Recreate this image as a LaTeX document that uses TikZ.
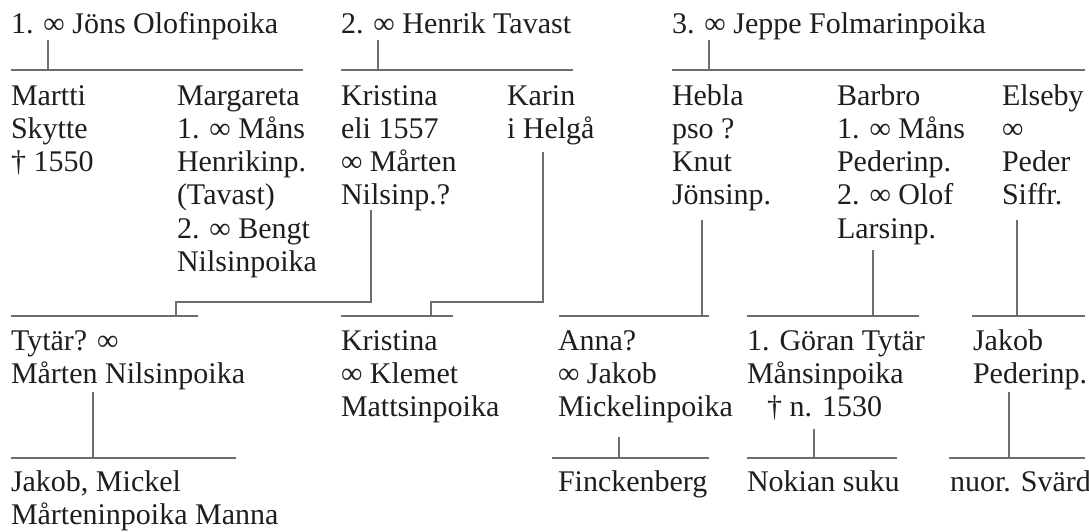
\documentclass[tikz,border=0pt]{standalone}
\usepackage{fontspec}
\setmainfont{Liberation Serif}
\definecolor{txt}{HTML}{1E1E1E}
\definecolor{ln}{HTML}{6E6E6E}
\newcommand{\famfont}{\fontsize{30}{33.3}\selectfont}
\tikzset{
  lbl/.style={anchor=north west, inner sep=0pt, outer sep=0pt, align=left, font=\famfont, text=txt},
  conn/.style={draw=ln, line width=1.1pt, line cap=butt}
}
\begin{document}
\begin{tikzpicture}[x=1pt,y=-1pt]
\useasboundingbox[fill=white] (0,0) rectangle (1089,531);
% headers (baseline 33)
\node[lbl] (h1) at (11,9.7) {\strut 1. ∞ Jöns Olofinpoika};
\node[lbl] (h2) at (341,9.7) {\strut 2. ∞ Henrik Tavast};
\node[lbl] (h3) at (672,9.7) {\strut 3. ∞ Jeppe Folmarinpoika};
% row 2 (baseline 105)
\node[lbl] (martti) at (11,81.7) {\strut Martti\\Skytte\\† 1550};
\node[lbl] (margareta) at (177,81.7) {\strut Margareta\\1. ∞ Måns\\Henrikinp.\\(Tavast)\\2. ∞ Bengt\\Nilsinpoika};
\node[lbl] (kristina) at (341,81.7) {\strut Kristina\\eli 1557\\∞ Mårten\\Nilsinp.?};
\node[lbl] (karin) at (507,81.7) {\strut Karin\\i Helgå};
\node[lbl] (hebla) at (672,81.7) {\strut Hebla\\pso ?\\Knut\\Jönsinp.};
\node[lbl] (barbro) at (837,81.7) {\strut Barbro\\1. ∞ Måns\\Pederinp.\\2. ∞ Olof\\Larsinp.};
\node[lbl] (elseby) at (1002,81.7) {\strut Elseby\\∞\\Peder\\Siffr.};
% row 3 (baseline 350)
\node[lbl] (tytar) at (11,326.7) {\strut Tytär? ∞\\Mårten Nilsinpoika};
\node[lbl] (kristina2) at (341,326.7) {\strut Kristina\\∞ Klemet\\Mattsinpoika};
\node[lbl] (anna) at (558,326.7) {\strut Anna?\\∞ Jakob\\Mickelinpoika};
\node[lbl] (goran) at (747,326.7) {\strut 1. Göran Tytär\\Månsinpoika\\\hspace*{20pt}† n. 1530};
\node[lbl] (jakob) at (973,326.7) {\strut Jakob\\Pederinp.};
% row 4 (baseline 491)
\node[lbl] (manna) at (11,467.7) {\strut Jakob, Mickel\\Mårteninpoika Manna};
\node[lbl] (finck) at (558,467.7) {\strut Finckenberg};
\node[lbl] (nokia) at (747,467.7) {\strut Nokian suku};
\node[lbl] (svard) at (950,467.7) {\strut nuor. Svärd};

% ---- coordinates: generation 1 bars
\coordinate (t1) at (48,40);   \coordinate (s1) at (48,70);
\coordinate (b1l) at (11,70);  \coordinate (b1r) at (303,70);
\coordinate (t2) at (378,40);  \coordinate (s2) at (378,70);
\coordinate (b2l) at (341,70); \coordinate (b2r) at (573,70);
\coordinate (t3) at (709,40);  \coordinate (s3) at (709,70);
\coordinate (b3l) at (672,70); \coordinate (b3r) at (1085,70);
\draw[conn] (b1l) -- (b1r); \draw[conn] (t1) -- (s1);
\draw[conn] (b2l) -- (b2r); \draw[conn] (t2) -- (s2);
\draw[conn] (b3l) -- (b3r); \draw[conn] (t3) -- (s3);

% ---- generation 2 -> 3
\coordinate (kt) at (371,210); \coordinate (kk1) at (371,302); \coordinate (kk2) at (176,302); \coordinate (kk3) at (176,316);
\coordinate (c1l) at (11,316); \coordinate (c1r) at (198,316);
\draw[conn] (kt) -- (kk1) -- (kk2) -- (kk3);
\draw[conn] (c1l) -- (c1r);

\coordinate (at) at (543,152); \coordinate (aa1) at (543,302); \coordinate (aa2) at (431,302); \coordinate (aa3) at (431,316);
\coordinate (c2l) at (341,316); \coordinate (c2r) at (453,316);
\draw[conn] (at) -- (aa1) -- (aa2) -- (aa3);
\draw[conn] (c2l) -- (c2r);

\coordinate (ht) at (702,220); \coordinate (hh) at (702,316);
\coordinate (c3l) at (559,316); \coordinate (c3r) at (709,316);
\draw[conn] (ht) -- (hh); \draw[conn] (c3l) -- (c3r);

\coordinate (bt) at (873,250); \coordinate (bb) at (873,316);
\coordinate (c4l) at (747,316); \coordinate (c4r) at (919,316);
\draw[conn] (bt) -- (bb); \draw[conn] (c4l) -- (c4r);

\coordinate (et) at (1017,220); \coordinate (ee) at (1017,316);
\coordinate (c5l) at (972,316); \coordinate (c5r) at (1085,316);
\draw[conn] (et) -- (ee); \draw[conn] (c5l) -- (c5r);

% ---- generation 3 -> 4
\coordinate (tt) at (93,392); \coordinate (tt2) at (93,458);
\coordinate (d1l) at (11,458); \coordinate (d1r) at (236,458);
\draw[conn] (tt) -- (tt2); \draw[conn] (d1l) -- (d1r);

\coordinate (nt) at (619,437); \coordinate (nt2) at (619,458);
\coordinate (d2l) at (552,458); \coordinate (d2r) at (709,458);
\draw[conn] (nt) -- (nt2); \draw[conn] (d2l) -- (d2r);

\coordinate (gt) at (814,429); \coordinate (gt2) at (814,458);
\coordinate (d3l) at (747,458); \coordinate (d3r) at (897,458);
\draw[conn] (gt) -- (gt2); \draw[conn] (d3l) -- (d3r);

\coordinate (jt) at (1009,392); \coordinate (jt2) at (1009,458);
\coordinate (d4l) at (949,458); \coordinate (d4r) at (1085,458);
\draw[conn] (jt) -- (jt2); \draw[conn] (d4l) -- (d4r);
\end{tikzpicture}
\end{document}
